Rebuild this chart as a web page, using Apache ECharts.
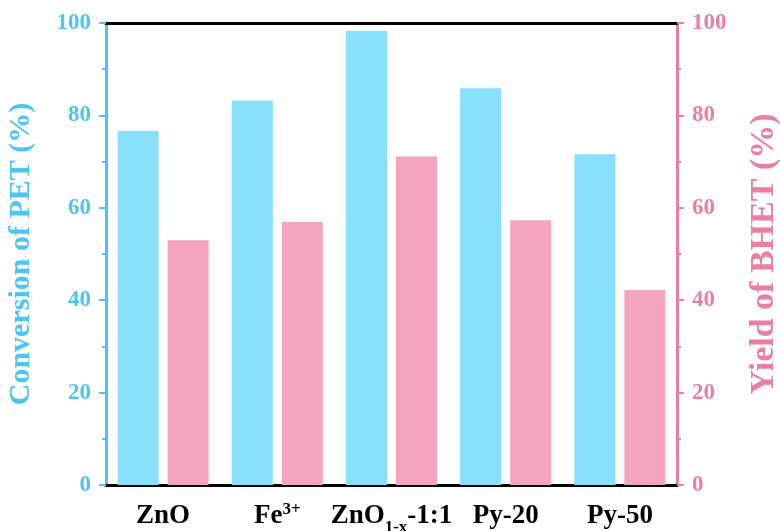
<!DOCTYPE html>
<html>
<head>
<meta charset="utf-8">
<script src="https://cdn.jsdelivr.net/npm/echarts@6/dist/echarts.min.js"></script>
<style>
  html, body { margin: 0; padding: 0; background: #fff; }
  #chart { width: 780px; height: 531px; }
</style>
</head>
<body>
<div id="chart"></div>
<script>
const categories = ['ZnO', 'Fe{sup|3+}', 'ZnO{sub|1-x}-1:1', 'Py-20', 'Py-50']
const conversion = [76.7, 83.2, 98.3, 85.9, 71.6]
const yieldBhet = [53.0, 56.9, 71.1, 57.3, 42.2]

const font = "'Liberation Serif', 'Times New Roman', serif"
const blue = '#4cc4f4'
const pink = '#ea7fa3'

const chart = echarts.init(document.getElementById('chart'))

const yAxisBase = (color, position, name, nameSize, nameGap) => ({
  type: 'value',
  position,
  min: 0,
  max: 100,
  interval: 20,
  name,
  nameLocation: 'middle',
  nameRotate: 90,
  nameGap,
  nameTextStyle: { color, fontSize: nameSize, fontWeight: 'bold', fontFamily: font },
  axisLine: { show: true, lineStyle: { color, width: 3 } },
  axisTick: { show: true, inside: false, length: 7, lineStyle: { color, width: 2 } },
  minorTick: { show: true, splitNumber: 2, length: 4, lineStyle: { color, width: 2 } },
  axisLabel: { color, fontSize: 23, fontWeight: 'bold', fontFamily: font, margin: 15 },
  splitLine: { show: false }
})

chart.setOption({
  animation: false,
  grid: { left: 106, right: 103, top: 23, bottom: 46, containLabel: false, outerBoundsMode: 'none' },
  xAxis: [
    {
      type: 'category',
      position: 'bottom',
      data: categories,
      axisLine: { onZero: false, lineStyle: { color: '#000', width: 3 } },
      axisTick: { alignWithLabel: true, length: 6, lineStyle: { color: '#000', width: 2 } },
      axisLabel: {
        color: '#000',
        fontSize: 27,
        fontWeight: 'bold',
        fontFamily: font,
        margin: 16,
        interval: 0,
        lineHeight: 30,
        rich: {
          sup: { fontSize: 17, fontWeight: 'bold', fontFamily: font, color: '#000', verticalAlign: 'top', lineHeight: 30 },
          sub: { fontSize: 17, fontWeight: 'bold', fontFamily: font, color: '#000', verticalAlign: 'bottom', lineHeight: 30, padding: [0, 0, -5, 0] }
        }
      }
    },
    {
      type: 'category',
      position: 'top',
      data: categories,
      axisLine: { onZero: false, lineStyle: { color: '#000', width: 3 } },
      axisTick: { show: false },
      axisLabel: { show: false }
    }
  ],
  yAxis: [
    yAxisBase(blue, 'left', 'Conversion of PET (%)', 30, 70),
    yAxisBase(pink, 'right', 'Yield of BHET (%)', 34, 70)
  ],
  series: [
    {
      name: 'Conversion of PET',
      type: 'bar',
      yAxisIndex: 0,
      data: conversion,
      barWidth: 41,
      barGap: '22%',
      itemStyle: { color: '#87e1fc' }
    },
    {
      name: 'Yield of BHET',
      type: 'bar',
      yAxisIndex: 1,
      data: yieldBhet,
      barWidth: 41,
      itemStyle: { color: '#f4a5bd' }
    }
  ]
})
</script>
</body>
</html>
